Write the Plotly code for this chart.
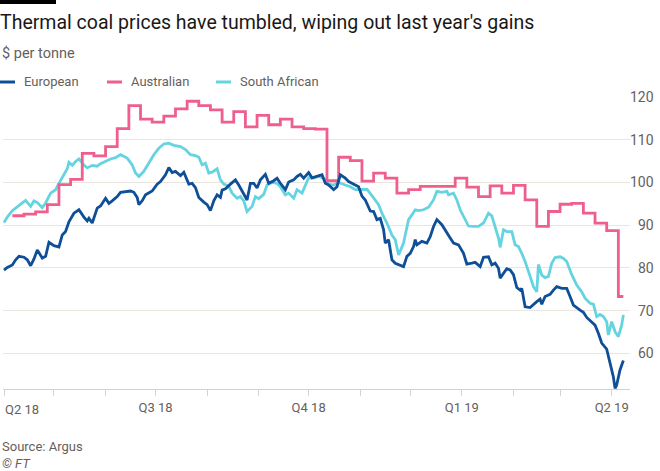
import plotly.graph_objects as go
import pandas as pd

# ---------------- data ----------------
series_names = ["European", "Australian", "South African"]
series_colors = ["#0e4f97", "#ee5f8e", "#66d3e1"]

euro_dates = [
    "2018-04-01", "2018-04-03", "2018-04-06", "2018-04-08", "2018-04-10", "2018-04-13", "2018-04-15",
    "2018-04-17", "2018-04-19", "2018-04-21", "2018-04-24", "2018-04-26", "2018-04-28", "2018-05-01",
    "2018-05-04", "2018-05-06", "2018-05-08", "2018-05-10", "2018-05-13", "2018-05-16", "2018-05-19",
    "2018-05-21", "2018-05-22", "2018-05-24", "2018-05-27", "2018-05-29", "2018-06-01", "2018-06-03",
    "2018-06-05", "2018-06-08", "2018-06-10", "2018-06-13", "2018-06-16", "2018-06-18", "2018-06-20",
    "2018-06-21", "2018-06-23", "2018-06-25", "2018-06-29", "2018-07-02", "2018-07-04", "2018-07-07",
    "2018-07-09", "2018-07-11", "2018-07-13", "2018-07-16", "2018-07-18", "2018-07-21", "2018-07-23",
    "2018-07-25", "2018-07-27", "2018-07-30", "2018-08-01", "2018-08-03", "2018-08-05", "2018-08-07",
    "2018-08-09", "2018-08-10", "2018-08-12", "2018-08-15", "2018-08-18", "2018-08-20", "2018-08-23",
    "2018-08-25", "2018-08-27", "2018-08-29", "2018-08-31", "2018-09-02", "2018-09-05", "2018-09-07",
    "2018-09-10", "2018-09-12", "2018-09-14", "2018-09-17", "2018-09-19", "2018-09-22", "2018-09-24",
    "2018-09-26", "2018-09-28", "2018-10-01", "2018-10-03", "2018-10-06", "2018-10-09", "2018-10-11",
    "2018-10-13", "2018-10-16", "2018-10-18", "2018-10-20", "2018-10-23", "2018-10-25", "2018-10-28",
    "2018-10-31", "2018-11-02", "2018-11-04", "2018-11-07", "2018-11-09", "2018-11-11", "2018-11-13",
    "2018-11-15", "2018-11-16", "2018-11-18", "2018-11-20", "2018-11-22", "2018-11-25", "2018-11-27",
    "2018-11-29", "2018-12-01", "2018-12-03", "2018-12-04", "2018-12-05", "2018-12-08", "2018-12-11",
    "2018-12-13", "2018-12-15", "2018-12-17", "2018-12-20", "2018-12-23", "2018-12-25", "2018-12-27",
    "2018-12-30", "2019-01-02", "2019-01-04", "2019-01-07", "2019-01-09", "2019-01-12", "2019-01-14",
    "2019-01-17", "2019-01-19", "2019-01-21", "2019-01-23", "2019-01-24", "2019-01-26", "2019-01-28",
    "2019-01-30", "2019-02-01", "2019-02-03", "2019-02-05", "2019-02-06", "2019-02-08", "2019-02-11",
    "2019-02-13", "2019-02-15", "2019-02-17", "2019-02-18", "2019-02-20", "2019-02-23", "2019-02-25",
    "2019-02-27", "2019-03-02", "2019-03-05", "2019-03-07", "2019-03-09", "2019-03-13", "2019-03-15",
    "2019-03-17", "2019-03-20", "2019-03-22", "2019-03-24", "2019-03-26", "2019-03-29", "2019-03-31",
    "2019-04-02", "2019-04-03", "2019-04-04", "2019-04-06", "2019-04-08",
]
euro_values = [
    79.5, 80.1, 80.7, 81.9, 82.7, 82.5, 81.9,
    80.5, 82.1, 84.2, 82.3, 82.7, 86.0, 85.2,
    84.9, 87.7, 88.5, 90.8, 92.8, 93.6, 91.9,
    91.0, 91.6, 90.5, 94.0, 94.5, 96.3, 95.1,
    95.7, 96.7, 97.7, 97.8, 98.0, 97.7, 96.5,
    94.8, 95.7, 97.1, 98.0, 99.6, 100.2, 101.8,
    103.5, 102.3, 102.6, 101.6, 102.4, 99.6, 99.8,
    98.8, 96.5, 95.4, 94.8, 93.4, 95.7, 97.1,
    96.5, 98.2, 98.5, 99.6, 100.6, 99.4, 97.1,
    95.9, 99.8, 99.8, 98.7, 100.6, 101.9, 99.8,
    100.4, 101.0, 99.8, 98.3, 100.1, 100.6, 101.4,
    101.9, 101.0, 102.3, 101.1, 101.4, 101.8, 99.8,
    99.4, 98.3, 99.0, 101.8, 101.0, 100.2, 99.6,
    99.0, 96.8, 95.9, 93.3, 93.2, 91.3, 91.6,
    88.9, 85.8, 86.6, 81.9, 81.1, 80.7, 80.3,
    82.7, 83.4, 85.0, 86.6, 85.4, 86.2, 85.8,
    87.3, 89.7, 91.3, 90.1, 88.1, 87.0, 85.8,
    85.4, 83.4, 80.9, 81.1, 81.3, 80.3, 82.5,
    82.6, 80.7, 81.1, 79.9, 77.6, 78.7, 79.8,
    79.5, 78.4, 75.4, 74.8, 75.2, 70.9, 70.7,
    71.5, 72.1, 72.7, 71.5, 73.3, 73.8, 74.8,
    75.6, 75.2, 75.2, 73.3, 71.3, 70.1, 69.6,
    68.4, 67.4, 66.6, 64.7, 62.4, 61.0, 58.0,
    54.5, 51.8, 52.6, 56.1, 58.3,
]

sa_dates = [
    "2018-04-01", "2018-04-03", "2018-04-06", "2018-04-09", "2018-04-12", "2018-04-14", "2018-04-17",
    "2018-04-19", "2018-04-21", "2018-04-24", "2018-04-26", "2018-04-29", "2018-05-02", "2018-05-04",
    "2018-05-07", "2018-05-09", "2018-05-10", "2018-05-12", "2018-05-14", "2018-05-16", "2018-05-19",
    "2018-05-21", "2018-05-24", "2018-05-27", "2018-05-29", "2018-06-01", "2018-06-04", "2018-06-07",
    "2018-06-10", "2018-06-14", "2018-06-17", "2018-06-19", "2018-06-21", "2018-06-24", "2018-06-27",
    "2018-06-30", "2018-07-03", "2018-07-06", "2018-07-09", "2018-07-12", "2018-07-16", "2018-07-19",
    "2018-07-22", "2018-07-25", "2018-07-27", "2018-07-29", "2018-07-31", "2018-08-02", "2018-08-04",
    "2018-08-07", "2018-08-09", "2018-08-11", "2018-08-14", "2018-08-16", "2018-08-19", "2018-08-21",
    "2018-08-23", "2018-08-25", "2018-08-28", "2018-08-30", "2018-09-01", "2018-09-04", "2018-09-06",
    "2018-09-09", "2018-09-12", "2018-09-14", "2018-09-17", "2018-09-19", "2018-09-22", "2018-09-24",
    "2018-09-27", "2018-09-29", "2018-10-01", "2018-10-04", "2018-10-07", "2018-10-10", "2018-10-13",
    "2018-10-16", "2018-10-19", "2018-10-23", "2018-10-26", "2018-10-29", "2018-11-01", "2018-11-03",
    "2018-11-05", "2018-11-08", "2018-11-10", "2018-11-12", "2018-11-14", "2018-11-17", "2018-11-20",
    "2018-11-22", "2018-11-24", "2018-11-27", "2018-11-28", "2018-11-30", "2018-12-02", "2018-12-04",
    "2018-12-06", "2018-12-09", "2018-12-12", "2018-12-15", "2018-12-17", "2018-12-20", "2018-12-23",
    "2018-12-24", "2018-12-27", "2018-12-29", "2018-12-31", "2019-01-02", "2019-01-05", "2019-01-08",
    "2019-01-11", "2019-01-14", "2019-01-17", "2019-01-19", "2019-01-21", "2019-01-23", "2019-01-24",
    "2019-01-26", "2019-01-28", "2019-01-31", "2019-02-02", "2019-02-04", "2019-02-06", "2019-02-08",
    "2019-02-11", "2019-02-13", "2019-02-15", "2019-02-16", "2019-02-18", "2019-02-20", "2019-02-22",
    "2019-02-24", "2019-02-26", "2019-03-01", "2019-03-03", "2019-03-05", "2019-03-08", "2019-03-11",
    "2019-03-14", "2019-03-16", "2019-03-19", "2019-03-21", "2019-03-23", "2019-03-25", "2019-03-27",
    "2019-03-29", "2019-03-30", "2019-04-01", "2019-04-03", "2019-04-05", "2019-04-07", "2019-04-08",
]
sa_values = [
    90.6, 91.9, 93.4, 94.4, 95.2, 95.8, 94.4,
    95.7, 95.3, 94.1, 95.2, 97.5, 98.3, 99.8,
    101.8, 103.2, 104.7, 104.0, 104.9, 105.5, 104.1,
    103.4, 104.0, 103.8, 104.4, 104.9, 105.5, 105.8,
    106.5, 105.7, 104.1, 102.2, 101.4, 102.6, 104.5,
    106.5, 108.0, 109.0, 109.2, 108.7, 108.4, 107.7,
    106.5, 106.3, 105.9, 104.1, 104.5, 102.2, 102.4,
    103.2, 100.6, 99.6, 99.1, 97.5, 96.3, 96.7,
    95.7, 93.2, 94.4, 96.7, 96.2, 97.2, 99.4,
    100.0, 99.8, 99.0, 97.1, 97.5, 96.3, 98.3,
    97.5, 99.4, 101.1, 101.0, 101.4, 101.0, 99.6,
    99.4, 100.0, 99.4, 99.0, 98.3, 98.3, 98.3,
    98.4, 96.9, 95.9, 94.8, 92.8, 90.5, 87.7,
    86.6, 83.0, 85.8, 87.7, 91.3, 92.4, 93.6,
    93.4, 93.6, 94.2, 95.9, 97.9, 97.7, 97.9,
    97.1, 97.5, 95.9, 93.6, 92.0, 89.8, 89.7,
    89.7, 90.5, 92.8, 92.2, 89.7, 87.0, 84.8,
    88.9, 88.5, 88.5, 85.4, 85.0, 83.4, 81.5,
    78.0, 75.6, 74.4, 80.8, 78.3, 77.7, 78.0,
    81.1, 82.4, 82.6, 82.2, 81.5, 78.4, 76.0,
    74.4, 72.9, 71.7, 71.5, 68.6, 69.1, 68.6,
    67.4, 64.3, 67.4, 65.1, 63.9, 66.6, 69.0,
]

# Australian: weekly (Fridays) assessments, drawn as steps
aus_first_week = "2018-04-06"
aus_values = [
    92.2, 92.6, 93.1, 94.8, 99.5, 100.7, 106.8, 106.2, 108.4, 112.6,
    118.0, 114.8, 114.1, 115.5, 117.2, 119.0, 118.0, 117.0, 114.1, 116.6,
    113.0, 115.7, 113.5, 114.8, 113.0, 112.6, 112.5, 100.4, 105.9, 105.1,
    100.3, 102.2, 101.0, 97.5, 98.3, 99.1, 99.1, 99.1, 101.0, 98.9,
    96.7, 99.2, 97.5, 99.3, 95.9, 89.7, 93.2, 94.9, 95.1, 92.8,
    90.5, 88.7, 73.3,
]
aus_last_date = "2019-04-08"

y_tick_values = [60, 70, 80, 90, 100, 110, 120]
quarter_dates = ["2018-04-01", "2018-07-01", "2018-10-01", "2019-01-01", "2019-04-01"]
quarter_labels = ["Q2 18", "Q3 18", "Q4 18", "Q1 19", "Q2 19"]

title_text = "Thermal coal prices have tumbled, wiping out last year's gains"
subtitle_text = "$ per tonne"
source_text = "Source: Argus"
credit_text = "© FT"

# ---------------- build ----------------
aus_dates = list(pd.date_range(aus_first_week, periods=len(aus_values), freq="7D")) + [pd.Timestamp(aus_last_date)]
aus_plot_values = aus_values + [aus_values[-1]]

W, H = 660, 471
ML, MR, MT, MB = 3, 3, 97, 82
PW, PH = W - ML - MR, H - MT - MB
GREY = "#66605c"
FONT = "Roboto"
LW = 2.8


def px_x(px):
    return (px - ML) / PW


def px_y(py):
    return (H - MB - py) / PH


fig = go.Figure()
fig.add_trace(go.Scatter(x=sa_dates, y=sa_values, mode="lines", name=series_names[2],
                         line=dict(color=series_colors[2], width=LW)))
fig.add_trace(go.Scatter(x=aus_dates, y=aus_plot_values, mode="lines", name=series_names[1],
                         line=dict(color=series_colors[1], width=LW, shape="hv")))
fig.add_trace(go.Scatter(x=euro_dates, y=euro_values, mode="lines", name=series_names[0],
                         line=dict(color=series_colors[0], width=LW)))

annotations = []
shapes = []

# top black bar
shapes.append(dict(type="rect", xref="paper", yref="paper",
                   x0=px_x(0), x1=px_x(56), y0=px_y(0), y1=px_y(4),
                   fillcolor="#000000", line=dict(width=0)))

# subtitle
annotations.append(dict(text=subtitle_text, xref="paper", yref="paper", x=px_x(0), y=px_y(53),
                        xanchor="left", yanchor="middle", showarrow=False,
                        font=dict(family=FONT, size=14.5, color=GREY)))

# manual legend
leg_sym_x = [0, 107, 216]
for name, color, sx in zip(series_names, series_colors, leg_sym_x):
    shapes.append(dict(type="line", xref="paper", yref="paper",
                       x0=px_x(sx), x1=px_x(sx + 15), y0=px_y(82), y1=px_y(82),
                       line=dict(color=color, width=3)))
    annotations.append(dict(text=name, xref="paper", yref="paper", x=px_x(sx + 22), y=px_y(82),
                            xanchor="left", yanchor="middle", showarrow=False,
                            font=dict(family=FONT, size=13, color=GREY)))

# first quarter label, left-aligned at the axis start
annotations.append(dict(text=quarter_labels[0], xref="paper", yref="paper", x=0, y=px_y(409),
                        xanchor="left", yanchor="middle", showarrow=False,
                        font=dict(family=FONT, size=13, color=GREY)))

# y tick labels, right-aligned at the right edge
for v in y_tick_values:
    annotations.append(dict(text=str(v), xref="paper", yref="y", x=px_x(656), y=v,
                            xanchor="right", yanchor="middle", showarrow=False,
                            font=dict(family=FONT, size=14, color=GREY)))

# source / credit
annotations.append(dict(text=source_text, xref="paper", yref="paper", x=px_x(0), y=px_y(446),
                        xanchor="left", yanchor="middle", showarrow=False,
                        font=dict(family=FONT, size=13, color=GREY)))
annotations.append(dict(text="<i>" + credit_text + "</i>", xref="paper", yref="paper", x=px_x(0), y=px_y(463),
                        xanchor="left", yanchor="middle", showarrow=False,
                        font=dict(family=FONT, size=13, color=GREY)))

fig.update_layout(
    width=W, height=H,
    margin=dict(l=ML, r=MR, t=MT, b=MB, pad=0),
    paper_bgcolor="white", plot_bgcolor="white",
    showlegend=False,
    font=dict(family=FONT, color=GREY),
    title=dict(text=title_text, xref="container", yref="container", x=0, y=1 - 22 / H,
               xanchor="left", yanchor="middle",
               font=dict(family=FONT, size=19.5, color="#1a1817")),
    xaxis=dict(
        type="date",
        domain=[0, (630 - ML) / PW],
        range=["2018-03-31 09:36", "2019-04-12 00:00"],
        showgrid=False, zeroline=False,
        showline=True, linecolor="#d8d2cc", linewidth=1,
        ticks="outside", ticklen=6, tickcolor="#d8d2cc", tickwidth=1,
        tickvals=quarter_dates[1:], ticktext=quarter_labels[1:],
        tickfont=dict(family=FONT, size=13, color=GREY),
        minor=dict(ticks="outside", ticklen=6, tickcolor="#d8d2cc", tickwidth=1,
                   dtick="M1", tick0="2018-04-01", showgrid=False),
    ),
    yaxis=dict(
        range=[51.65, 120.0],
        tickvals=y_tick_values,
        showticklabels=False,
        showgrid=True, gridcolor="#ebe5df", gridwidth=1,
        zeroline=False, showline=False, ticks="",
    ),
    annotations=annotations,
    shapes=shapes,
)

fig.write_html("out.html", config={"displayModeBar": False},
               post_script="document.body.style.margin='0';")
